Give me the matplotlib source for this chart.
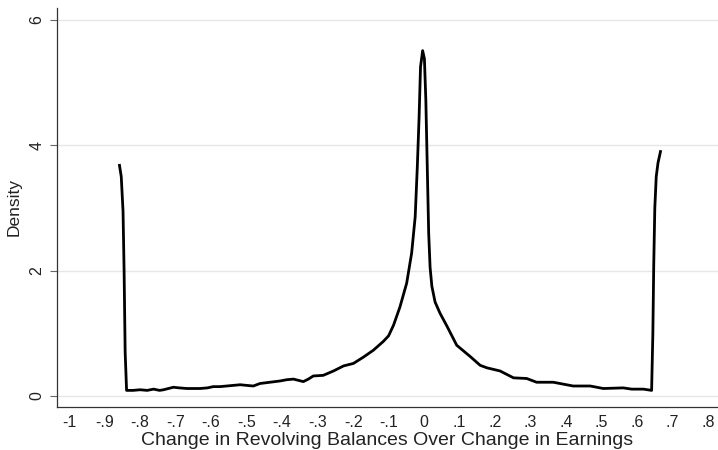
import matplotlib
matplotlib.use("Agg")
import matplotlib.pyplot as plt

plt.rcParams['font.family'] = ['Liberation Sans', 'DejaVu Sans']

# Kernel density values
x_vals = [-0.858, -0.853, -0.848, -0.845, -0.842, -0.838, -0.820, -0.800, -0.780,
          -0.762, -0.745, -0.734, -0.720, -0.706, -0.690, -0.668, -0.650, -0.631,
          -0.610, -0.594, -0.575, -0.556, -0.537, -0.518, -0.500, -0.481, -0.462,
          -0.434, -0.406, -0.387, -0.368, -0.340, -0.326, -0.312, -0.284, -0.255,
          -0.227, -0.199, -0.171, -0.143, -0.115, -0.100, -0.086, -0.068, -0.049,
          -0.035, -0.025, -0.019, -0.014, -0.010, -0.004, 0.001, 0.005, 0.009,
          0.013, 0.017, 0.022, 0.031, 0.045, 0.064, 0.092, 0.130, 0.158, 0.177, 0.214,
          0.252, 0.289, 0.317, 0.364, 0.420, 0.468, 0.505, 0.561, 0.585, 0.618,
          0.641, 0.6445, 0.647, 0.650, 0.654, 0.659, 0.666]
density = [3.68, 3.50, 2.95, 2.00, 0.70, 0.09, 0.09, 0.10, 0.09,
           0.11, 0.09, 0.10, 0.12, 0.14, 0.13, 0.12, 0.12, 0.12,
           0.13, 0.15, 0.15, 0.16, 0.17, 0.18, 0.17, 0.16, 0.20,
           0.22, 0.24, 0.26, 0.27, 0.23, 0.27, 0.32, 0.33, 0.40,
           0.48, 0.52, 0.62, 0.73, 0.87, 0.96, 1.13, 1.42, 1.80,
           2.28, 2.86, 3.66, 4.45, 5.25, 5.51, 5.38, 4.72, 3.66,
           2.60, 2.05, 1.75, 1.50, 1.32, 1.12, 0.81, 0.63, 0.49, 0.45, 0.40,
           0.29, 0.28, 0.22, 0.22, 0.16, 0.16, 0.12, 0.13, 0.11, 0.11,
           0.09, 1.00, 2.10, 3.00, 3.50, 3.72, 3.90]

x_ticks = [-1, -0.9, -0.8, -0.7, -0.6, -0.5, -0.4, -0.3, -0.2, -0.1, 0,
           0.1, 0.2, 0.3, 0.4, 0.5, 0.6, 0.7, 0.8]
x_tick_labels = ['-1', '-.9', '-.8', '-.7', '-.6', '-.5', '-.4', '-.3', '-.2', '-.1',
                 '0', '.1', '.2', '.3', '.4', '.5', '.6', '.7', '.8']
y_ticks = [0, 2, 4, 6]
y_tick_labels = ['0', '2', '4', '6']

fig = plt.figure(figsize=(7.18, 4.5), dpi=100)
W, H = 718, 450
ax = fig.add_axes([57 / W, (H - 407) / H, (718 - 57) / W, (407 - 8) / H])

ax.plot(x_vals, density, color='black', linewidth=2.0, solid_joinstyle='round')

ax.set_xlim(-1.034, 0.828)
ax.set_ylim(-0.175, 6.19)
ax.set_xticks(x_ticks)
ax.set_xticklabels(x_tick_labels)
ax.set_yticks(y_ticks)
ax.set_yticklabels(y_tick_labels, rotation=90, va='center')

ax.grid(axis='y', color='#e6e6e6', linewidth=1.0)
ax.set_axisbelow(True)
for s in ['top', 'right']:
    ax.spines[s].set_visible(False)
for s in ['left', 'bottom']:
    ax.spines[s].set_color('#333333')
    ax.spines[s].set_linewidth(0.9)

ax.tick_params(axis='both', labelsize=11.5, labelcolor='#222222')
ax.tick_params(axis='x', length=0, pad=6)
ax.tick_params(axis='y', direction='out', length=5, width=0.8, color='#666666', pad=4)
ax.set_xlabel('Change in Revolving Balances Over Change in Earnings', fontsize=14,
              color='#222222', labelpad=1.5)
ax.set_ylabel('Density', fontsize=12.5, color='#222222', labelpad=6)

fig.savefig('out.png', dpi=100, facecolor='white')
